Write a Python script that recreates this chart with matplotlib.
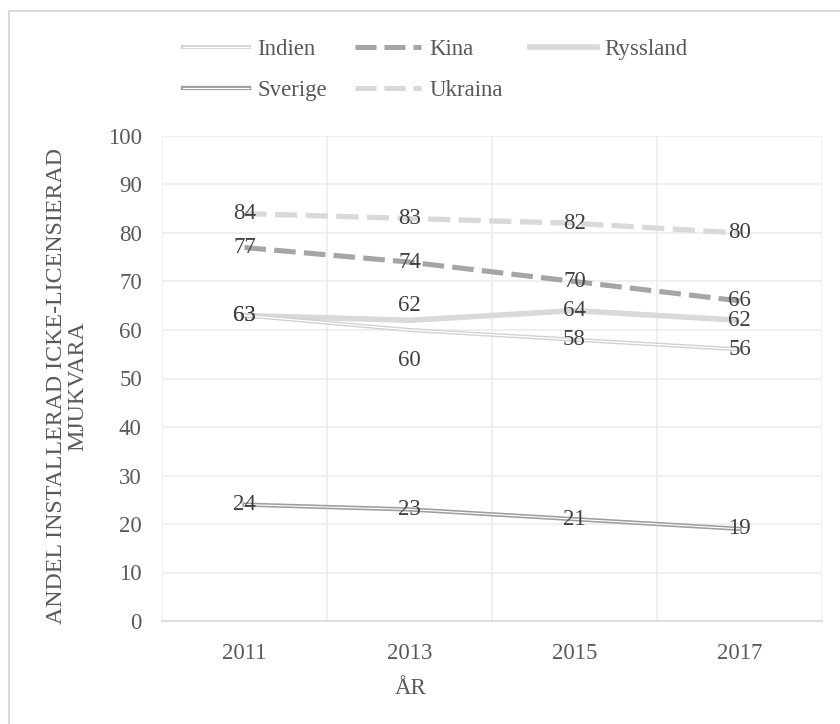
import matplotlib.pyplot as plt
from matplotlib.lines import Line2D
import numpy as np

plt.rcParams["font.family"] = ["Liberation Serif", "DejaVu Serif"]

# Daten
years = ["2011", "2013", "2015", "2017"]
indien = [63, 60, 58, 56]
kina = [77, 74, 70, 66]
ryssland = [63, 62, 64, 62]
sverige = [24, 23, 21, 19]
ukraina = [84, 83, 82, 80]

x = np.arange(len(years))
fs = 16.5
tick_col = "#595959"
lab_col = "#404040"
light = "#d9d9d9"
dark = "#a5a5a5"

fig = plt.figure(figsize=(8.4, 7.24), dpi=100)
ax = fig.add_axes([162 / 840, 1 - 621 / 724, 660 / 840, 485 / 724])

# Linien
dash = (4.2, 1.6)
ax.plot(x, ukraina, color=light, lw=3.8, dashes=dash, zorder=3)
ax.plot(x, kina, color=dark, lw=3.7, dashes=dash, zorder=3)
ax.plot(x, ryssland, color=light, lw=4.0, solid_capstyle="butt", zorder=3)
# Doppellinien: breite Linie + weisse Mitte
ax.plot(x, indien, color="#d2d2d2", lw=2.9, zorder=4)
ax.plot(x, indien, color="white", lw=0.9, zorder=4)
ax.plot(x, sverige, color="#9e9e9e", lw=3.1, zorder=4)
ax.plot(x, sverige, color="white", lw=0.8, zorder=4)

# Datenbeschriftungen (einige manuell verschoben)
def labels(vals, offsets=None):
    for i, v in enumerate(vals):
        dy = offsets[i] if offsets else 0
        ax.annotate(str(v), (x[i], v), xytext=(0, dy), textcoords="offset points",
                    ha="center", va="center", fontsize=fs, color=lab_col, zorder=6)

labels(ukraina)
labels(kina)
labels(ryssland, [0, 11, 0, 0])
labels(indien, [0, -22, 0, 0])
labels(sverige)

# Achsen
ax.set_xlim(-0.5, len(years) - 0.5)
ax.set_ylim(0, 100)
ax.set_yticks(range(0, 101, 10))
ax.set_xticks(x)
ax.set_xticklabels(years)
ax.set_xticks(np.arange(-0.5, len(years), 1), minor=True)
ax.grid(axis="y", which="major", color="#ececec", lw=1.2)
ax.grid(axis="x", which="minor", color="#ececec", lw=1.2)
ax.grid(axis="x", which="major", visible=False)
ax.tick_params(axis="both", which="both", length=0, labelsize=fs, labelcolor=tick_col)
ax.tick_params(axis="y", pad=14.5)
ax.tick_params(axis="x", pad=16)
for s in ["top", "right", "left"]:
    ax.spines[s].set_visible(False)
ax.spines["bottom"].set_color(light)
ax.spines["bottom"].set_linewidth(1.2)

fig.text(67 / 840, 1 - 386 / 724, "ANDEL INSTALLERAD ICKE-LICENSIERAD\nMJUKVARA",
         rotation=90, ha="center", va="center", fontsize=17.2, color=tick_col,
         linespacing=1.0, multialignment="center")
fig.text(411 / 840, 1 - 688 / 724, "ÅR", ha="center", va="center", fontsize=fs, color=tick_col)

# Legende
def dbl(col, w1, w2):
    return (Line2D([], [], color=col, lw=w1), Line2D([], [], color="white", lw=w2))

handles = [
    dbl("#d2d2d2", 2.9, 0.9),
    dbl("#9e9e9e", 3.1, 0.8),
    Line2D([], [], color=dark, lw=3.6, dashes=dash),
    Line2D([], [], color=light, lw=3.6, dashes=dash),
    Line2D([], [], color=light, lw=4.0),
]
names = ["Indien", "Sverige", "Kina", "Ukraina", "Ryssland"]
leg = fig.legend(handles, names, ncol=3, loc="upper left",
                 bbox_to_anchor=(183 / 840, 1 - 39 / 724), frameon=False,
                 fontsize=fs, handlelength=2.9, handletextpad=0.35,
                 columnspacing=1.2, labelspacing=0.85, borderpad=0, borderaxespad=0)
for t in leg.get_texts():
    t.set_color(tick_col)

# Rahmen des Diagrammbereichs (nur oben/links sichtbar)
fig.add_artist(Line2D([9 / 840, 9 / 840], [0, 1 - 11 / 724], color=light, lw=1.5,
                      transform=fig.transFigure))
fig.add_artist(Line2D([9 / 840, 1], [1 - 11 / 724, 1 - 11 / 724], color=light, lw=1.5,
                      transform=fig.transFigure))

fig.savefig("out.png", dpi=100)
